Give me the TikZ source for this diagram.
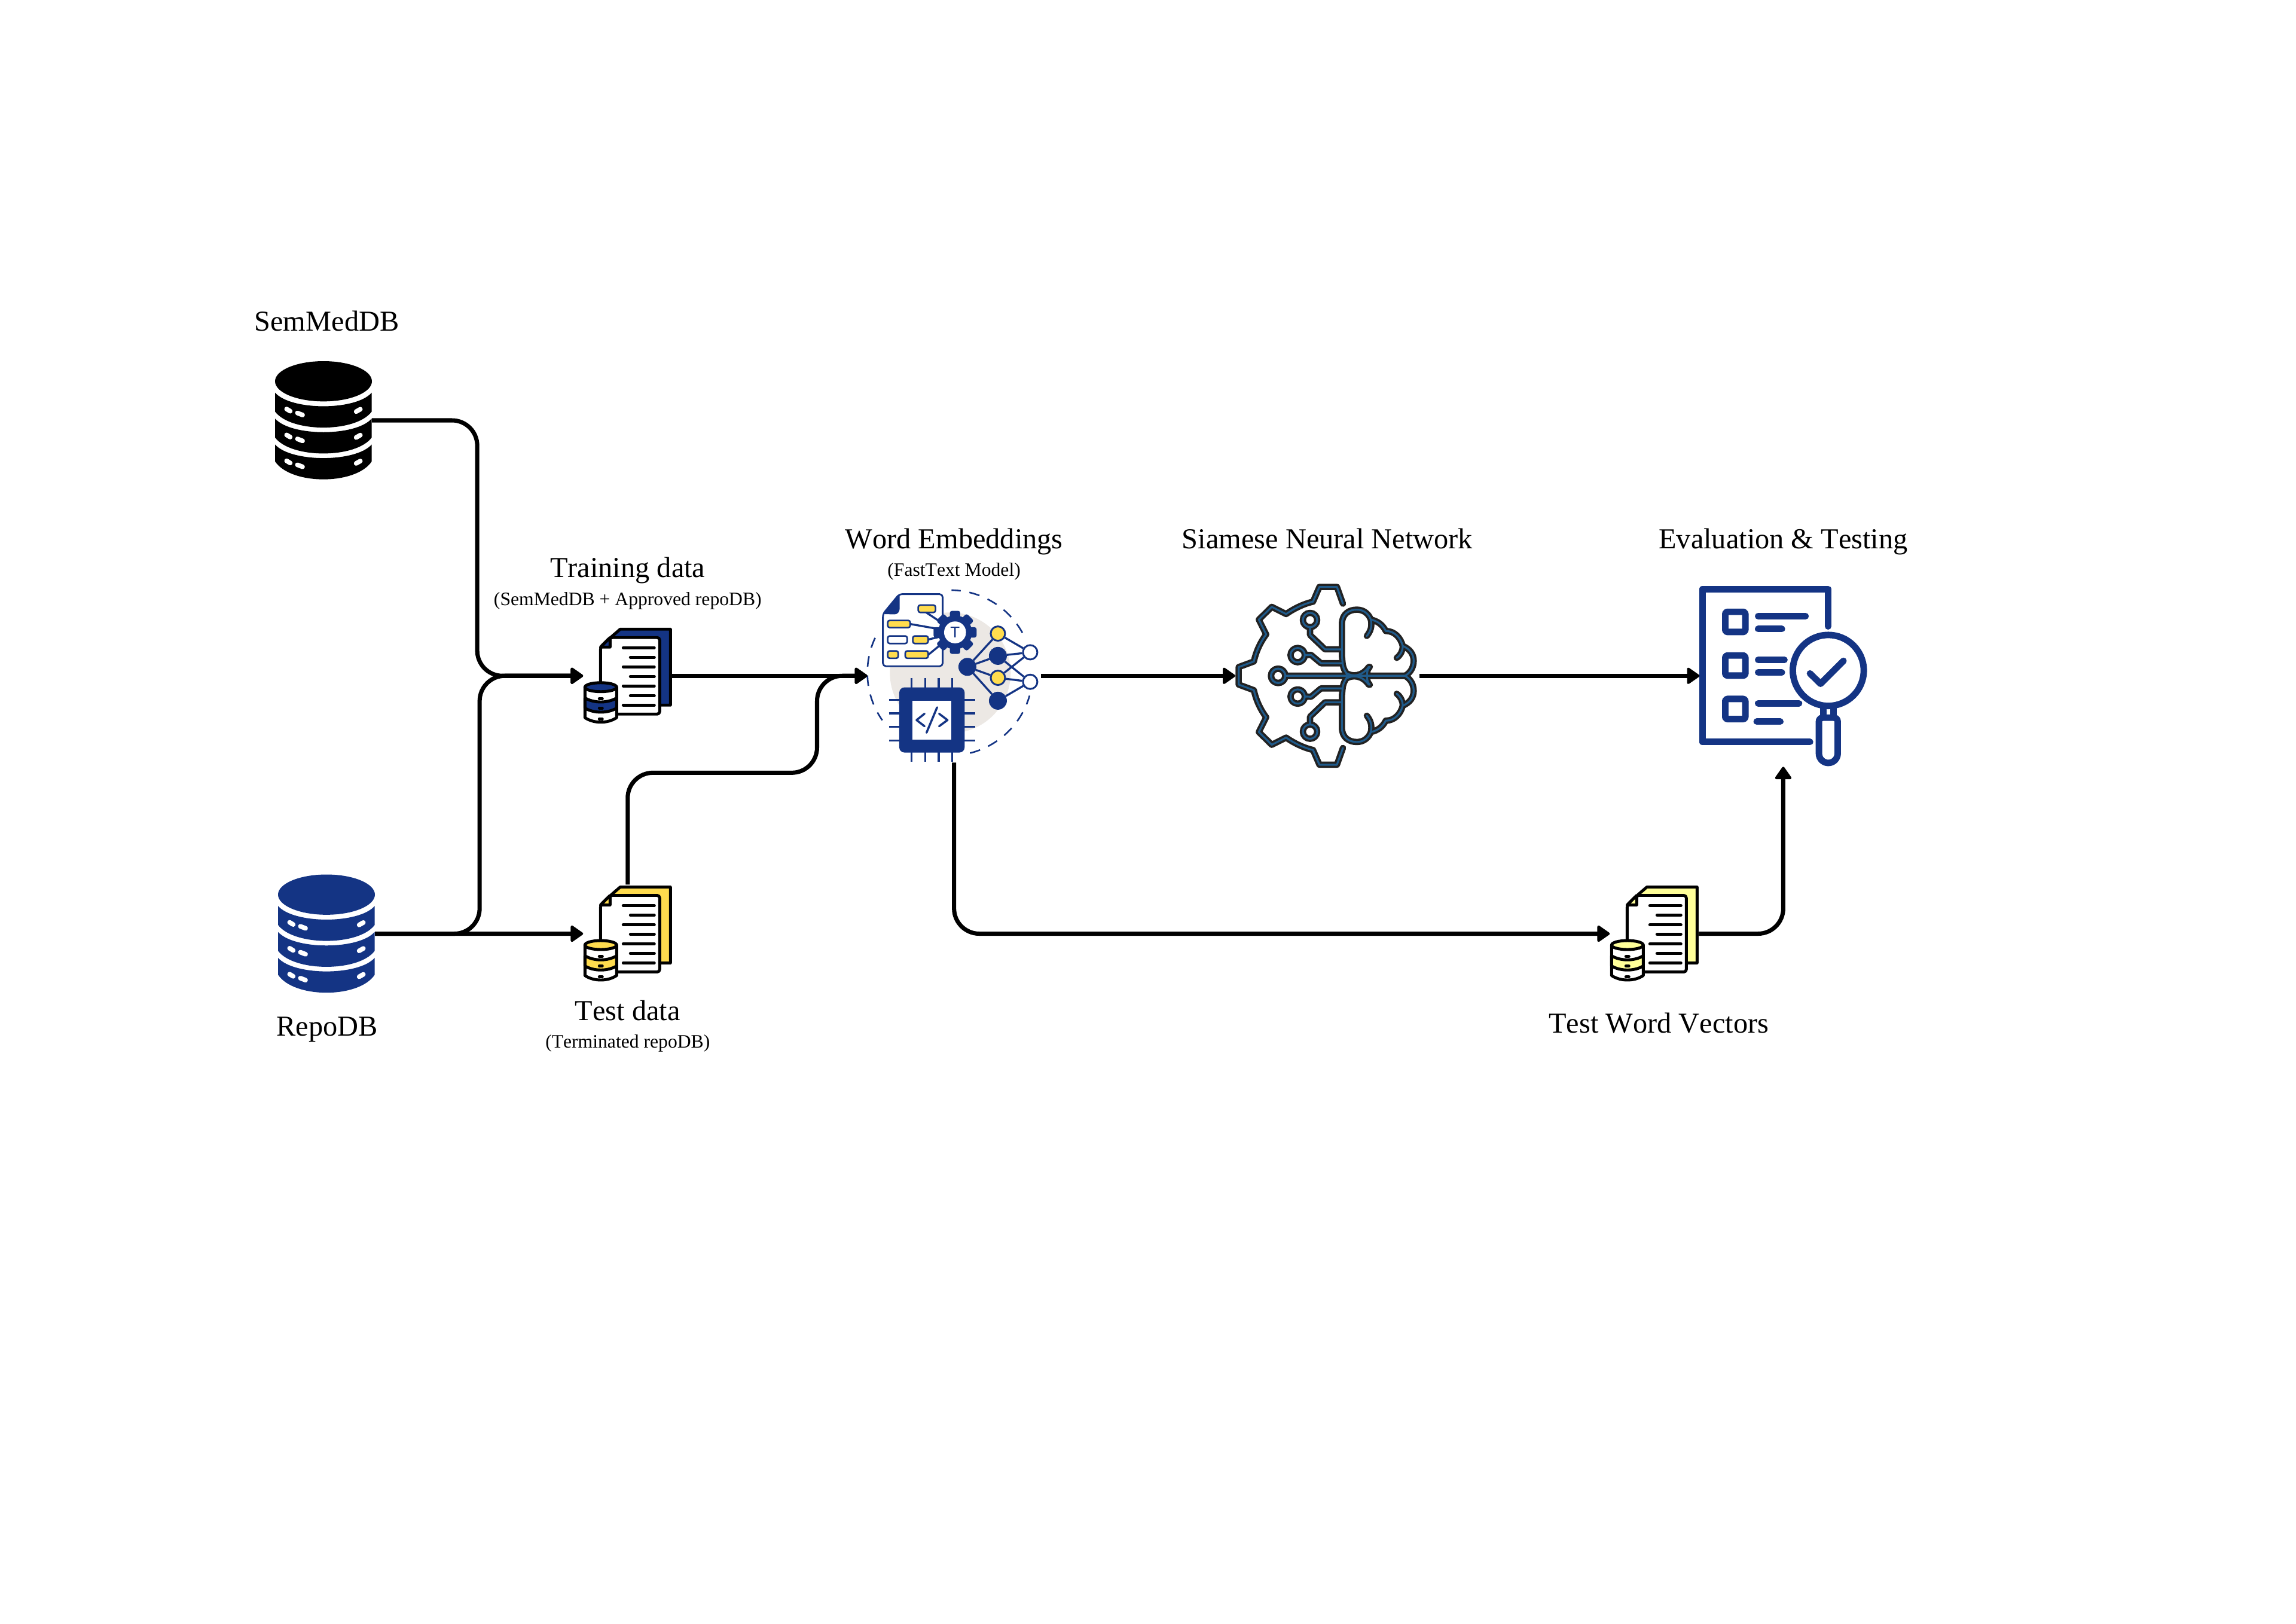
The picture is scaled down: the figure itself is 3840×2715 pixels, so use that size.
\documentclass[tikz,border=0pt]{standalone}
\usepackage{fontspec}
\setmainfont[Kerning=Off]{Liberation Serif}
\newfontfamily\iconfont{Liberation Sans}
\usetikzlibrary{positioning, arrows.meta}

\definecolor{navy}{HTML}{143484}
\definecolor{sunny}{HTML}{FFDC4E}
\definecolor{pale}{HTML}{FFFF99}
\definecolor{blob}{HTML}{ECE8E4}
\definecolor{inkdark}{HTML}{222222}
\definecolor{inkblue}{HTML}{1F5A8A}

\tikzset{
  flow/.style={line width=2pt, rounded corners=12pt},
  arrowed/.style={flow, -{Triangle[length=6.4pt, width=8.6pt, line width=1.2pt, round]}},
  iconbox/.style={inner sep=0pt, outer sep=0pt},
  bigtext/.style={anchor=base, inner sep=0pt, font=\fontsize{13.75}{16}\selectfont},
  smalltext/.style={anchor=base, inner sep=0pt, font=\fontsize{9}{11}\selectfont},
  docline/.style={line width=1.4pt, line join=round, line cap=round},
  formbox/.style={draw=navy, line width=0.75pt, rounded corners=1pt},
  netline/.style={navy, line width=0.95pt},
  netfull/.style={circle, fill=navy, draw=navy, line width=0.85pt, minimum size=0.27cm, inner sep=0pt},
  netsun/.style={circle, fill=sunny, draw=navy, line width=0.85pt, minimum size=0.24cm, inner sep=0pt},
  netopen/.style={circle, fill=white, draw=navy, line width=0.85pt, minimum size=0.24cm, inner sep=0pt},
  evalline/.style={navy, line width=3.1pt, line cap=round, line join=round},
}

\newcommand{\dbicon}[2]{
  \begin{scope}[shift={(#1.center)}, scale=1/3, shift={(-483,-669)}]
    \fill [#2] (483,473) ellipse [x radius=243, y radius=101];
    \foreach \d/\e/\c in {0/625/732, 130/755/862, 260/875/995} {
      \fill [#2] (240,530+\d) .. controls (320,621+\d) and (646,621+\d) .. (725,530+\d)
        -- (725,\e) .. controls (646,\c) and (320,\c) .. (240,\e) -- cycle;
      \draw [white, line width=2.2pt, line cap=round] (298,612+\d) -- (316,623+\d);
      \draw [white, line width=2.2pt, line cap=round] (352,632+\d) -- (378,642+\d);
      \draw [white, line width=2.2pt, line cap=round] (647,625+\d) -- (668,613+\d);
    }
  \end{scope}
}

\newcommand{\docicon}[2]{
  \begin{scope}[shift={(#1.center)}, shift={(13.5,0)}, docline]
    \draw [fill=#2] (-41,-65) -- (-26,-78) -- (58,-78) -- (58,49) -- (30,49) -- cycle;
    \draw [fill=white, rounded corners=1.2pt] (-59,-48) -- (-43,-64) -- (40,-64) -- (40,64) -- (-59,64) -- cycle;
    \draw [fill=#2] (-59,-48) -- (-43,-64) -- (-43,-48) -- cycle;
    \foreach \y in {-47,-15,17,49} {\draw (-21,\y) -- (31,\y);}
    \foreach \y in {-31,1,33} {\draw (-9,\y) -- (31,\y);}
    \draw [fill=white] (-85,19) -- (-85,70) .. controls (-70,80) and (-47,80) .. (-32,70) -- (-32,19) -- cycle;
    \draw [fill=#2] (-85,37) .. controls (-70,46) and (-47,46) .. (-32,37) -- (-32,54) .. controls (-47,63) and (-70,63) .. (-85,54) -- cycle;
    \draw [fill=#2] (-58.5,19) ellipse [x radius=26.5, y radius=7.5];
    \foreach \y in {38,54,72} {\draw (-61,\y) -- (-56,\y);}
  \end{scope}
}

\newcommand{\brainhalf}{
  (615,-362) -- (585,-446) -- (497,-446) -- (465,-372) .. controls (420,-362) and (370,-338) .. (330,-310)
    -- (258,-346) -- (193,-282) -- (230,-208) .. controls (195,-160) and (178,-115) .. (168,-72) -- (92,-44) -- (92,0)
  (450,-280) circle [radius=36]
  (450,-244) -- (450,-205) -- (525,-133) -- (610,-133)
  (388,-104) circle [radius=36]
  (424,-104) -- (455,-105) -- (505,-63) -- (610,-63)
  (290,0) circle [radius=36]
  (326,0) -- (925,0)
  (640,0) .. controls (615,-40) .. (610,-100) -- (610,-260) .. controls (610,-310) and (645,-332) .. (685,-332) .. controls (720,-332) and (745,-310) .. (755,-282)
  (735,-200) .. controls (755,-225) and (762,-250) .. (755,-282)
  (755,-282) .. controls (790,-275) and (815,-255) .. (830,-225) .. controls (875,-225) and (905,-190) .. (915,-150)
  (885,-90) .. controls (905,-105) and (915,-125) .. (915,-150) .. controls (950,-135) and (970,-110) .. (970,-75) .. controls (970,-35) and (945,-8) .. (925,0)
  (750,-45) .. controls (738,-30) .. (735,0)
  (630,-15) .. controls (660,5) and (710,5) .. (745,-45)
}

\begin{document}
\begin{tikzpicture}[x=0.01cm, y=-0.01cm, on grid]
  \useasboundingbox (0,0) rectangle (3840,2715);

  \node [iconbox, minimum width=1.62cm, minimum height=1.98cm] (semmed) at (541,703) {};
  \node [iconbox, minimum width=1.62cm, minimum height=1.98cm, below right=8.58 cm and 0.05 cm of semmed] (repo) {};
  \node [iconbox, minimum width=1.49cm, minimum height=1.64cm, below right=4.27 cm and 5.085 cm of semmed] (train) {};
  \node [iconbox, minimum width=1.49cm, minimum height=1.64cm, below=4.31 cm of train] (test) {};
  \node [iconbox, minimum width=2.90cm, minimum height=2.90cm, right=5.455 cm of train] (embed) {};
  \node [iconbox, minimum width=3.08cm, minimum height=3.15cm, right=6.24 cm of embed] (brain) {};
  \node [iconbox, minimum width=2.80cm, minimum height=3.04cm, right=7.62 cm of brain] (eval) {};
  \node [iconbox, minimum width=1.49cm, minimum height=1.64cm, right=17.16 cm of test] (vectors) {};

  \node [above right=1.49 cm and 0.055 cm of semmed, bigtext] (semmedtxt) {SemMedDB};
  \node [below right=1.705 cm and 0.01 cm of repo, bigtext] (repotxt) {RepoDB};
  \node [above=1.645 cm of train, bigtext] (traintxt) {Training data};
  \node [above=1.18 cm of train, smalltext] (trainsub) {(SemMedDB + Approved repoDB)};
  \node [below=1.445 cm of test, bigtext] (testtxt) {Test data};
  \node [below=1.91 cm of test, smalltext] (testsub) {(Terminated repoDB)};
  \node [above=2.125 cm of embed, bigtext] (embedtxt) {Word Embeddings};
  \node [above=1.67 cm of embed, smalltext] (embedsub) {(FastText Model)};
  \node [above=2.125 cm of brain, bigtext] (braintxt) {Siamese Neural Network};
  \node [above=2.125 cm of eval, bigtext] (evaltxt) {Evaluation \& Testing};
  \node [below right=1.655 cm and 0.075 cm of vectors, bigtext] (vectorstxt) {Test Word Vectors};

  \dbicon{semmed}{black}
  \dbicon{repo}{navy}
  \docicon{train}{navy}
  \docicon{test}{sunny}
  \docicon{vectors}{pale}

  \begin{scope}[shift={(embed.center)}, scale=1/3, shift={(-585,-810)}]
    \fill [blob] (566,795) circle [radius=303];
    \foreach \from/\to in {29/89, 155/215, 284/344} {
      \draw [navy, line width=0.75pt, dash pattern=on 5pt off 4.2pt]
        plot [domain=\from:\to, samples=30] ({565+415*cos(\x)},{795-415*sin(\x)});
    }
    \draw [fill=white, draw=navy, line width=0.8pt, rounded corners=1.5pt] (228,500) -- (310,400) -- (528,400) -- (528,762) -- (228,762) -- cycle;
    \fill [navy, rounded corners=1pt] (228,500) -- (312,398) -- (312,485) -- (297,502) -- cycle;
    \draw [netline] (445,492) -- (510,535) (365,550) -- (490,572) (455,628) -- (510,615) (455,705) -- (510,660);
    \draw [formbox, fill=sunny] (405,455) rectangle (492,492);
    \draw [formbox, fill=sunny] (252,532) rectangle (365,568);
    \draw [formbox, fill=white] (252,610) rectangle (350,648);
    \draw [formbox, fill=sunny] (378,610) rectangle (455,648);
    \draw [formbox, fill=sunny] (252,685) rectangle (305,722);
    \draw [formbox, fill=sunny] (340,685) rectangle (455,722);
    \fill [navy] (590,592) circle [radius=85];
    \foreach \a in {0,45,...,315} {
      \fill [navy, rotate around={\a:(590,592)}, rounded corners=1pt] (564,484) rectangle (616,530);
    }
    \fill [white] (590,592) circle [radius=55];
    \node [text=navy, inner sep=0pt, font=\iconfont\fontsize{7.4}{8}\selectfont] (gearT) at (590,592) {T};
    \node [netfull] (n1) at (652,765) {};
    \node [netsun] (n2) at (805,598) {};
    \node [netfull] (n3) at (805,710) {};
    \node [netsun] (n4) at (805,820) {};
    \node [netfull] (n5) at (805,935) {};
    \node [netopen] (n6) at (967,692) {};
    \node [netopen] (n7) at (967,840) {};
    \foreach \a/\b in {n1/n2, n1/n3, n1/n4, n1/n5, n2/n6, n3/n6, n3/n7, n4/n6, n4/n7, n5/n7} {
      \draw [netline] (\a) -- (\b);
    }
    \foreach \y in {930,998,1066,1134} {
      \draw [netline] (258,\y) -- (690,\y);
    }
    \foreach \x in {372,440,508,576} {
      \draw [netline] (\x,820) -- (\x,1242);
    }
    \fill [navy, rounded corners=2.5pt] (310,868) rectangle (638,1195);
    \fill [white] (375,935) rectangle (572,1130);
    \draw [netline, line width=1pt, line cap=round, line join=round] (437,1000) -- (397,1032) -- (437,1063);
    \draw [netline, line width=1pt, line cap=round, line join=round] (500,968) -- (447,1095);
    \draw [netline, line width=1pt, line cap=round, line join=round] (510,1000) -- (552,1032) -- (510,1063);
  \end{scope}

  \begin{scope}[shift={(brain.center)}, scale=1/3, shift={(-537,0)}, line cap=round, line join=round]
    \draw [inkdark, line width=3pt] \brainhalf;
    \begin{scope}[yscale=-1]
      \draw [inkdark, line width=3pt] \brainhalf;
    \end{scope}
    \draw [inkblue, line width=0.9pt] \brainhalf;
    \begin{scope}[yscale=-1]
      \draw [inkblue, line width=0.9pt] \brainhalf;
    \end{scope}
  \end{scope}

  \begin{scope}[shift={(eval.center)}, scale=1/3, shift={(-543,-570)}]
    \draw [evalline] (768,322) -- (768,135) -- (137,135) -- (137,902) -- (677,902);
    \foreach \y in {249,468,686} {
      \draw [evalline, rounded corners=1pt] (252,\y) rectangle (353,\y+101);
    }
    \draw [evalline] (417,271) -- (655,271) (417,335) -- (536,335);
    \draw [evalline] (417,490) -- (549,490) (417,553) -- (536,553);
    \draw [evalline] (417,708) -- (622,708) (410,800) -- (528,800);
    \draw [evalline, line cap=butt] (743,725) -- (743,785) (795,725) -- (795,785);
    \draw [evalline, fill=white] (769,543) circle [radius=178];
    \draw [evalline] (677,558) -- (730,610) -- (845,495);
    \draw [evalline, fill=white] (722,960) -- (722,800) .. controls (722,788) and (730,780) .. (742,780) -- (796,780) .. controls (808,780) and (816,788) .. (816,800) -- (816,960) .. controls (816,986) and (795,1007) .. (769,1007) .. controls (743,1007) and (722,986) .. (722,960) -- cycle;
  \end{scope}

  \coordinate [left=1.77 cm of train.west] (busa);
  \coordinate [left=1.73 cm of train.west] (busb);
  \coordinate [below left=1.62 cm and 0.84 cm of embed.west] (bend);

  \draw [arrowed] (semmed.east) -| (busa) -- (train.west);
  \draw [arrowed] (repo.east) -| (busb) -- (train.west);
  \draw [arrowed] (repo.east) -- (test.west);
  \draw [arrowed] (train.east) -- (embed.west);
  \draw [arrowed] (test.north) |- (bend) |- (embed.west);
  \draw [arrowed] (embed.east) -- (brain.west);
  \draw [arrowed] (brain.east) -- (eval.west);
  \draw [arrowed] (embed.south) |- (vectors.west);
  \draw [arrowed] (vectors.east) -| (eval.south);
\end{tikzpicture}
\end{document}
